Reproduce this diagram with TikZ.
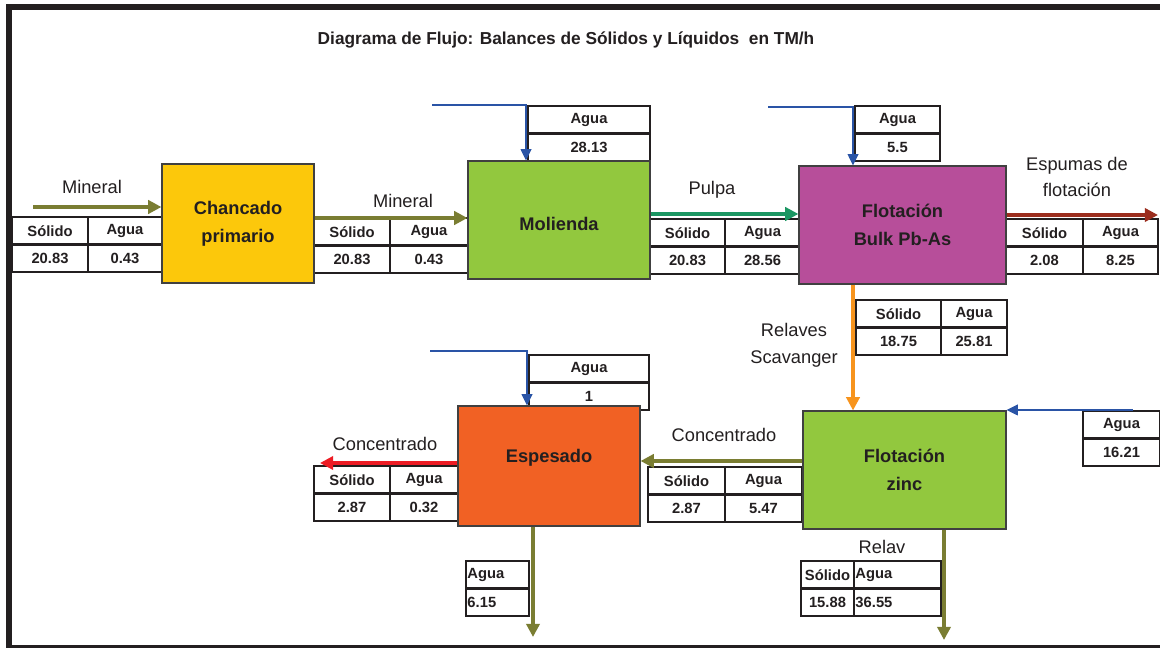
\documentclass[tikz,border=0pt]{standalone}
\usepackage{fontspec}
\setmainfont{Liberation Sans}
\usetikzlibrary{arrows.meta,positioning,calc}
\definecolor{amarillo}{HTML}{FCC80B}
\definecolor{verde}{HTML}{92C83E}
\definecolor{morado}{HTML}{B74E9A}
\definecolor{naranja}{HTML}{F16124}
\definecolor{oliva}{HTML}{7A7D32}
\definecolor{azul}{HTML}{2A54A6}
\definecolor{verdepulpa}{HTML}{1B9662}
\definecolor{granate}{HTML}{9B2D1E}
\definecolor{relave}{HTML}{F7941D}
\definecolor{rojo}{HTML}{ED1C24}
\definecolor{tinta}{HTML}{231F20}
\newcommand{\pxu}{0.025cm}
\tikzset{
  proceso/.style={draw=black!75, line width=0.8pt, align=center, text=tinta,
    font=\fontsize{13}{20}\selectfont\bfseries},
  celda/.style={draw=tinta, line width=1.7pt, outer sep=0pt, inner sep=1pt,
    minimum height=27.5*\pxu, text=tinta, font=\fontsize{10.5}{12}\selectfont\bfseries},
  celdaizq/.style={celda, text width=#1, align=left},
  flujo/.style={-{Triangle[length=3.3mm,width=3.3mm]}, line width=2.8pt, draw=oliva},
  agua/.style={-{Triangle[length=2.8mm,width=2.6mm]}, line width=1.5pt, draw=azul},
  etiqueta/.style={align=center, text=tinta, font=\fontsize{13}{19}\selectfont},
  titulo/.style={text=tinta, font=\fontsize{12.3}{14}\selectfont\bfseries},
  marco/.style={draw=tinta, line width=4.2pt}
}
\newcommand{\tablasa}[7]{%
  \node[celda, minimum width=#4*\pxu, anchor=north west] (#1-s) at (#2,#3) {Sólido};
  \node[celda, minimum width=#5*\pxu, anchor=north west] (#1-a) at (#1-s.north east) {Agua};
  \node[celda, minimum width=#4*\pxu, anchor=north west] (#1-vs) at (#1-s.south west) {#6};
  \node[celda, minimum width=#5*\pxu, anchor=north west] (#1-va) at (#1-a.south west) {#7};
}
\newcommand{\tablaagua}[5]{%
  \node[celda, minimum width=#4*\pxu, anchor=north west] (#1-s) at (#2,#3) {Agua};
  \node[celda, minimum width=#4*\pxu, anchor=north west] (#1-v) at (#1-s.south west) {#5};
}

\begin{document}
\begin{tikzpicture}[x=0.025cm, y=-0.025cm]
  \useasboundingbox (0,0) rectangle (1160,648);
  \draw[marco] (1165,7) -- (9,7) -- (9,648) -- (1165,648);
  \node[titulo] (titulo) at (566,40) {Diagrama de Flujo: Balances de Sólidos y Líquidos\ \ en TM/h};

  \tablasa{t1}{12}{217}{76}{74}{20.83}{0.43}
  \tablasa{t2}{314}{218}{76}{78}{20.83}{0.43}
  \tablasa{t3}{650}{219}{75}{75}{20.83}{28.56}
  \tablasa{t4}{1006}{219}{77}{75}{2.08}{8.25}
  \tablasa{t5}{856}{300}{85}{66}{18.75}{25.81}
  \tablasa{t6}{648}{467}{77}{77}{2.87}{5.47}
  \tablasa{t7}{314}{466}{76}{68}{2.87}{0.32}
  \tablaagua{a1}{528}{106}{122}{28.13}
  \tablaagua{a2}{855}{106}{85}{5.5}
  \tablaagua{a3}{529}{355}{120}{1}
  \tablaagua{a4}{1083}{411}{77}{16.21}

  \node[celda, minimum width=53*\pxu, anchor=north west] (t8-s) at (801,561) {Sólido};
  \node[celdaizq=2.1cm, minimum width=87*\pxu, anchor=north west] (t8-a) at (t8-s.north east) {Agua};
  \node[celda, minimum width=53*\pxu, anchor=north west] (t8-vs) at (t8-s.south west) {15.88};
  \node[celdaizq=2.1cm, minimum width=87*\pxu, anchor=north west] (t8-va) at (t8-a.south west) {36.55};
  \node[celdaizq=1.5cm, minimum width=63*\pxu, anchor=north west] (a5-s) at (466,561) {Agua};
  \node[celdaizq=1.5cm, minimum width=63*\pxu, anchor=north west] (a5-v) at (a5-s.south west) {6.15};

  \node[proceso, fill=amarillo, minimum width=152*\pxu, minimum height=119*\pxu] (chan) at (238,223.5) {Chancado\\primario};
  \node[proceso, fill=verde, minimum width=182*\pxu, minimum height=118*\pxu, text height=15pt] (mol) at (559,220) {Molienda};
  \node[proceso, fill=morado, minimum width=207*\pxu, minimum height=118*\pxu] (bulk) at (902.5,225) {Flotación\\Bulk Pb-As};
  \node[proceso, fill=verde, minimum width=203*\pxu, minimum height=118*\pxu] (zinc) at (904.5,470) {Flotación\\zinc};
  \node[proceso, fill=naranja, minimum width=182*\pxu, minimum height=120*\pxu, text depth=14.5pt] (esp) at (549,466) {Espesado};

  \coordinate (m0) at (33,207);
  \coordinate (p0) at (0,214);
  \coordinate (e1) at (1158,215);
  \coordinate (w1) at (432,105);
  \coordinate (w1x) at (526,0);
  \coordinate (w2) at (768,107);
  \coordinate (w2x) at (853,0);
  \coordinate (w3) at (430,351);
  \coordinate (w3x) at (527,0);
  \coordinate (w4) at (1133,410);
  \coordinate (rel) at (853,0);
  \coordinate (c1) at (0,461);
  \coordinate (c2) at (320,463);
  \coordinate (d1) at (533,637);
  \coordinate (d2) at (944,640);

  \draw[flujo] (m0) -- (m0 -| chan.west);
  \draw[flujo] (chan.east |- t2-s.north) -- (mol.west |- t2-s.north);
  \draw[flujo, draw=verdepulpa] (mol.east |- p0) -- (bulk.west |- p0);
  \draw[flujo, draw=granate] (bulk.east |- e1) -- (e1);
  \draw[agua] (w1) -| (mol.north -| w1x);
  \draw[agua] (w2) -| (bulk.north -| w2x);
  \draw[agua] (w3) -| (esp.north -| w3x);
  \draw[agua] (w4) -- (zinc.north east |- w4);
  \draw[flujo, draw=relave, line width=2.2pt] (bulk.south -| rel) -- (zinc.north -| rel);
  \draw[flujo, line width=2.4pt] (zinc.west |- c1) -- (esp.east |- c1);
  \draw[flujo, draw=rojo] (esp.west |- c2) -- (c2);
  \draw[flujo] (esp.south -| d1) -- (d1);
  \draw[flujo] (zinc.south -| d2) -- (d2);

  \node[etiqueta] (lmin1) at (92,187) {Mineral};
  \node[etiqueta] (lmin2) at (403,201) {Mineral};
  \node[etiqueta] (lpul) at (712,190) {Pulpa};
  \node[etiqueta] (lesp) at (1077,177) {Espumas de\\flotación};
  \node[etiqueta] (lrel) at (794,345) {Relaves\\Scavanger};
  \node[etiqueta] (lcon1) at (724,435) {Concentrado};
  \node[etiqueta] (lcon2) at (385,444) {Concentrado};
  \node[etiqueta] (lrelav) at (882,547) {Relav};
\end{tikzpicture}
\end{document}
